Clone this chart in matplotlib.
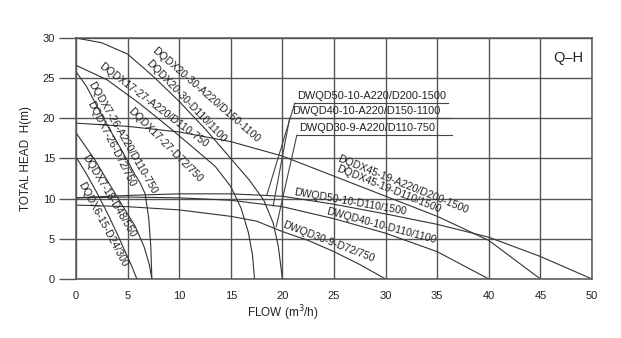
import matplotlib.pyplot as plt

plt.rcParams['font.family'] = ['Liberation Sans', 'DejaVu Sans']

# pump curves (flow m3/h, head m)
q_20_30 = [0, 2.5, 5, 7.5, 10, 12.5, 14.8, 16.8, 18.2, 19.1, 19.6, 20]
h_20_30 = [30, 29.4, 28.0, 25.2, 22.1, 18.7, 15.3, 12.3, 9.8, 7.0, 4.1, 0]
q_17_27 = [0, 3, 6, 9, 11.5, 13.5, 15.0, 16.0, 16.7, 17.1, 17.3]
h_17_27 = [26.6, 24.8, 22.0, 18.9, 16.2, 14.0, 11.5, 8.8, 5.8, 3.0, 0]
q_7_26 = [0, 1, 2, 3, 4, 5, 5.7, 6.2, 6.7, 7.05, 7.25, 7.35]
h_7_26 = [25.8, 24.0, 21.6, 19.2, 17.0, 14.7, 13.0, 12.0, 10.6, 7.5, 4.0, 0]
q_7_18 = [0, 1.84, 3.29, 4.75, 5.72, 6.6, 7.1, 7.35]
h_7_18 = [18.2, 14.8, 11.7, 8.6, 6.6, 4.0, 1.8, 0]
q_6_15 = [0, 1, 2, 3, 4, 4.8, 5.4, 5.9]
h_6_15 = [15.2, 13.1, 10.8, 8.3, 5.6, 3.3, 1.6, 0]
q_45_19 = [0, 5, 10, 15, 20, 25, 30, 35, 40, 45]
h_45_19 = [19.4, 19.0, 18.3, 17.1, 15.3, 12.8, 10.3, 7.8, 4.8, 0]
q_50_10 = [0, 5, 10, 15, 20, 25, 30, 35, 40, 45, 50]
h_50_10 = [10.1, 10.4, 10.6, 10.6, 10.3, 9.3, 8.1, 6.8, 5.2, 2.8, 0]
q_40_10 = [0, 5, 10, 15, 20, 25, 30, 35, 40]
h_40_10 = [10.1, 10.2, 10.1, 9.8, 9.0, 7.5, 5.7, 3.4, 0]
q_30_9 = [0, 5, 10, 15, 17.5, 20, 22.5, 25, 27.5, 30]
h_30_9 = [9.2, 9.0, 8.6, 7.8, 7.2, 5.9, 4.8, 3.4, 1.8, 0]

curves = [(q_20_30, h_20_30), (q_17_27, h_17_27), (q_7_26, h_7_26),
          (q_7_18, h_7_18), (q_6_15, h_6_15), (q_45_19, h_45_19),
          (q_50_10, h_50_10), (q_40_10, h_40_10), (q_30_9, h_30_9)]

# rotated labels: text, flow, head, angle
labels = [
    ('DQDX20-30-A220/D150-1100', 7.8, 29.1, -41),
    ('DQDX20-30-D110/1100', 7.3, 27.5, -46),
    ('DQDX17-27-A220/D110-750', 2.6, 27.1, -37),
    ('DQDX17-27-D72/750', 5.5, 21.5, -45),
    ('DQDX7-26-A220/D110-750', 1.8, 24.8, -60),
    ('DQDX7-26-D72/750', 1.7, 22.3, -63),
    ('DQDX7-18-D48/550', 1.2, 15.7, -59),
    ('DQDX6-15-D24/300', 0.9, 12.3, -62),
    ('DQDX45-19-A220/D200-1500', 25.6, 15.6, -22),
    ('DQDX45-19-D110/1500', 25.5, 14.4, -22),
    ('DWQD50-10-D110/1500', 21.2, 11.4, -10),
    ('DWQD40-10-D110/1100', 24.4, 9.1, -15),
    ('DWQD30-9-D72/750', 20.2, 7.4, -21),
]

# labels with leader lines: text, underline y, underline x0, x1, leader end
leaders = [
    ('DWQD50-10-A220/D200-1500', 21.9, 21.2, 36.0, 18.5, 10.5),
    ('DWQD40-10-A220/D150-1100', 20.0, 20.7, 36.3, 19.1, 9.1),
    ('DWQD30-9-A220/D110-750', 17.9, 21.4, 36.4, 19.4, 6.5),
]

fig = plt.figure(figsize=(6.21, 3.38), dpi=100)
ax = fig.add_axes([0.1224, 0.1746, 0.8309, 0.713])

for q, h in curves:
    ax.plot(q, h, color='#333333', lw=0.8)

for txt, x, y, rot in labels:
    ax.text(x, y, txt, rotation=rot, rotation_mode='anchor', ha='left', va='top',
            fontsize=7.6, color='#222222')

for txt, yl, x0, x1, xe, ye in leaders:
    ax.plot([x0, x1], [yl, yl], color='#444444', lw=0.8)
    ax.plot([x0, xe], [yl, ye], color='#444444', lw=0.8)
    ax.text(x0 + 0.2, yl + 0.3, txt, ha='left', va='bottom', fontsize=7.9, color='#222222')

ax.text(49.15, 27.5, 'Q–H', ha='right', va='center', fontsize=10.5, color='#222222')

ax.set_xlim(0, 50)
ax.set_ylim(0, 30)
ax.set_xticks(range(0, 51, 5))
ax.set_yticks(range(0, 31, 5))
ax.grid(True, color='#555555', lw=1)
ax.tick_params(axis='x', length=0, pad=9, labelsize=8, colors='#222222')
ax.tick_params(axis='y', length=12, width=1, pad=3, labelsize=8, color='#555555', labelcolor='#222222')
for s in ax.spines.values():
    s.set_color('#555555')
    s.set_linewidth(1.1)

ax.set_xlabel('FLOW (m$^3$/h)', fontsize=8.5, color='#222222')
ax.xaxis.set_label_coords(0.401, -0.10)
ax.set_ylabel('TOTAL HEAD  H(m)', fontsize=8.5, labelpad=8, color='#222222')

fig.savefig('out.png', dpi=100)
